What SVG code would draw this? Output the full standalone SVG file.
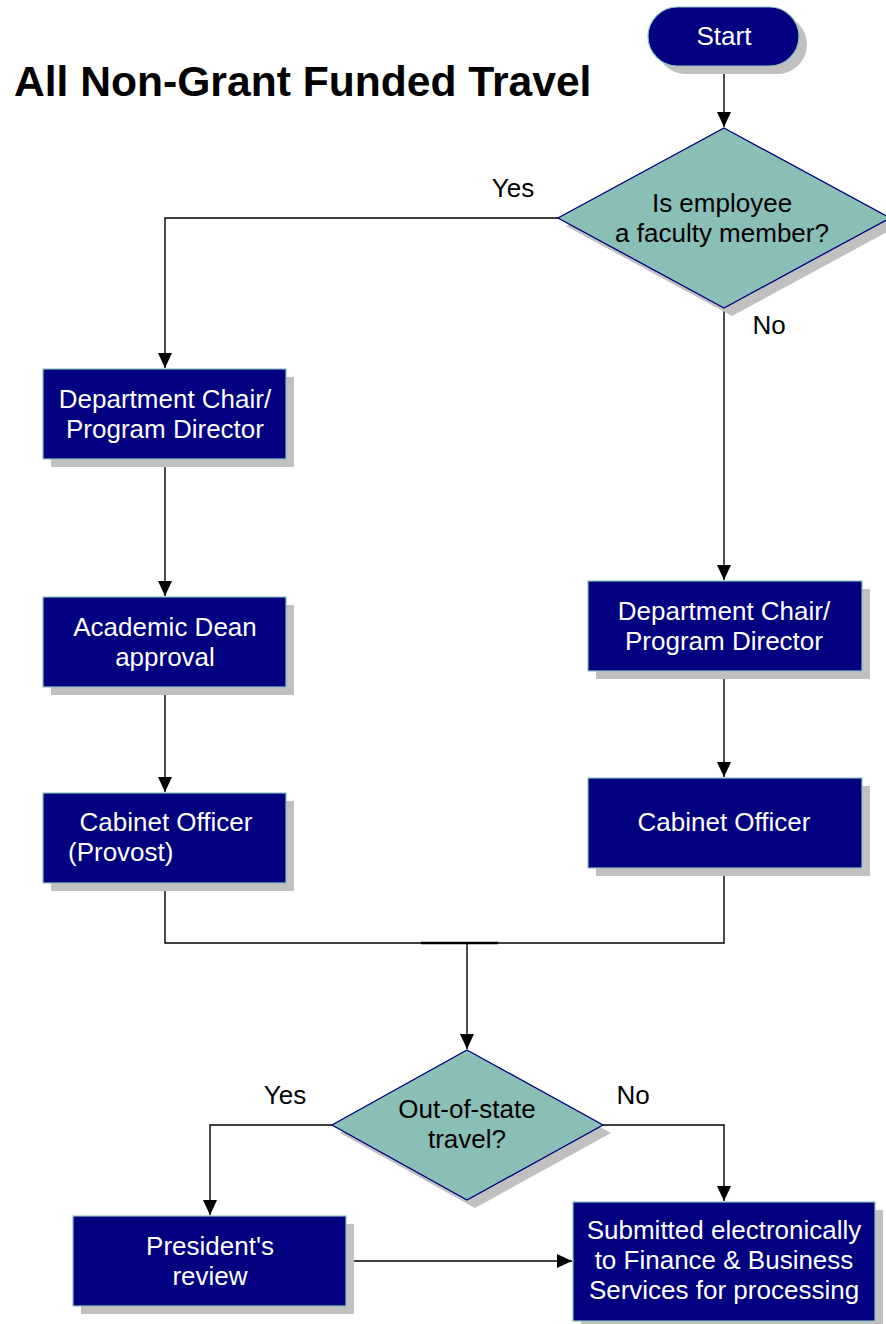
<svg xmlns="http://www.w3.org/2000/svg" width="886" height="1324" viewBox="0 0 886 1324">
<style>
.bg{fill:#ffffff}
.shadow{fill:#c0c0c0}
.box{fill:#000080;stroke:#8cc4bc;stroke-width:1.2}
.dia{fill:#8abfb8;stroke:#000080;stroke-width:1.3}
.wt{fill:#ffffff;font-family:"Liberation Sans",Arial,sans-serif;font-size:26px;text-anchor:middle}
.bt{fill:#000000;font-family:"Liberation Sans",Arial,sans-serif;font-size:26px;text-anchor:middle}
.title{fill:#000000;font-family:"Liberation Sans",Arial,sans-serif;font-size:42.6px;font-weight:bold}
.ln{fill:none;stroke:#000000;stroke-width:1.4}
</style>
<defs>
<marker id="arr" markerWidth="16" markerHeight="16" refX="15" refY="7" orient="auto" markerUnits="userSpaceOnUse">
<path d="M0,0 L15,7 L0,14 Z" fill="#000000"/>
</marker>
</defs>
<rect class="bg" x="0" y="0" width="886" height="1324"/>
<text class="title" x="14" y="96">All Non-Grant Funded Travel</text>

<g id="connectors">
<path class="ln" d="M724,66 L724,127" marker-end="url(#arr)"/>
<path class="ln" d="M558,218 L165,218 L165,368" marker-end="url(#arr)"/>
<path class="ln" d="M724,308 L724,580" marker-end="url(#arr)"/>
<path class="ln" d="M165,459 L165,596" marker-end="url(#arr)"/>
<path class="ln" d="M165,687 L165,792" marker-end="url(#arr)"/>
<path class="ln" d="M724,671 L724,777" marker-end="url(#arr)"/>
<path class="ln" d="M165,883 L165,943 L724,943 L724,868"/>
<path d="M421,943 L498,943" stroke="#000000" stroke-width="2.6"/>
<path class="ln" d="M467,943 L467,1049" marker-end="url(#arr)"/>
<path class="ln" d="M332,1125 L210,1125 L210,1215" marker-end="url(#arr)"/>
<path class="ln" d="M603,1125 L724,1125 L724,1201" marker-end="url(#arr)"/>
<path class="ln" d="M353,1261 L572,1261" marker-end="url(#arr)"/>
<text class="bt" x="513" y="197">Yes</text>
<text class="bt" x="769" y="334">No</text>
<text class="bt" x="285" y="1104">Yes</text>
<text class="bt" x="633" y="1104">No</text>
</g>

<g id="start">
<rect class="shadow" x="656" y="15" width="151" height="59" rx="29.5"/>
<rect class="box" x="648" y="7" width="151" height="59" rx="29.5"/>
<text class="wt" x="724" y="45">Start</text>
</g>

<g id="faculty-decision">
<polygon class="shadow" points="732,136 898,226 732,316 566,226"/>
<polygon class="dia" points="724,128 890,218 724,308 558,218"/>
<text class="bt" x="722" y="212">Is employee</text>
<text class="bt" x="722" y="242">a faculty member?</text>
</g>

<g id="left-chair">
<rect class="shadow" x="51" y="377" width="243" height="90"/>
<rect class="box" x="43" y="369" width="243" height="90"/>
<text class="wt" x="165" y="408">Department Chair/</text>
<text class="wt" x="165" y="438">Program Director</text>
</g>

<g id="dean">
<rect class="shadow" x="51" y="605" width="243" height="90"/>
<rect class="box" x="43" y="597" width="243" height="90"/>
<text class="wt" x="165" y="636">Academic Dean</text>
<text class="wt" x="165" y="666">approval</text>
</g>

<g id="provost">
<rect class="shadow" x="51" y="801" width="243" height="90"/>
<rect class="box" x="43" y="793" width="243" height="90"/>
<text class="wt" x="166" y="831">Cabinet Officer</text>
<text class="wt" x="68" y="861" style="text-anchor:start">(Provost)</text>
</g>

<g id="right-chair">
<rect class="shadow" x="596" y="589" width="274" height="90"/>
<rect class="box" x="588" y="581" width="274" height="90"/>
<text class="wt" x="724" y="620">Department Chair/</text>
<text class="wt" x="724" y="650">Program Director</text>
</g>

<g id="cabinet">
<rect class="shadow" x="596" y="786" width="274" height="90"/>
<rect class="box" x="588" y="778" width="274" height="90"/>
<text class="wt" x="724" y="831">Cabinet Officer</text>
</g>

<g id="state-decision">
<polygon class="shadow" points="475,1058 611,1133 475,1208 340,1133"/>
<polygon class="dia" points="467,1050 603,1125 467,1200 332,1125"/>
<text class="bt" x="467" y="1118">Out-of-state</text>
<text class="bt" x="467" y="1148">travel?</text>
</g>

<g id="president">
<rect class="shadow" x="81" y="1224" width="273" height="90"/>
<rect class="box" x="73" y="1216" width="273" height="90"/>
<text class="wt" x="210" y="1255">President's</text>
<text class="wt" x="210" y="1285">review</text>
</g>

<g id="submitted">
<rect class="shadow" x="581" y="1210" width="302" height="118"/>
<rect class="box" x="573" y="1202" width="302" height="119"/>
<text class="wt" x="724" y="1239">Submitted electronically</text>
<text class="wt" x="724" y="1269">to Finance &amp; Business</text>
<text class="wt" x="724" y="1299">Services for processing</text>
</g>
</svg>
